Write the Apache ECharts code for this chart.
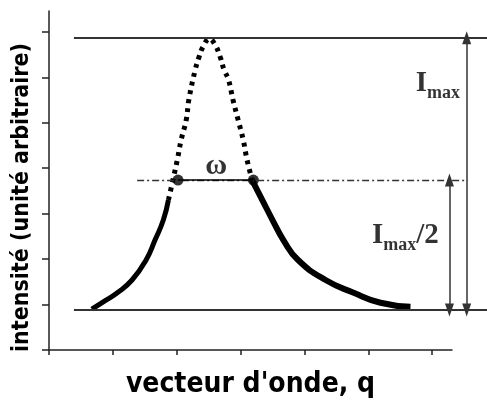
<!DOCTYPE html>
<html>
<head>
<meta charset="utf-8">
<script src="https://cdn.jsdelivr.net/npm/echarts@6/dist/echarts.min.js"></script>
<style>
html, body { margin: 0; padding: 0; background: #fff; }
#chart { width: 487px; height: 402px; }
</style>
</head>
<body>
<div id="chart"></div>
<script>
// courbe : [q, intensité]
const leftTail = [[0.67, 0.90], [0.85, 1.06], [1.07, 1.26], [1.30, 1.54], [1.52, 1.98], [1.66, 2.42], [1.79, 2.86], [1.87, 3.30]];
const peakPart = [[1.87, 3.30], [1.94, 3.74], [2.01, 4.19], [2.07, 4.63], [2.15, 5.07], [2.19, 5.51], [2.29, 6.17], [2.35, 6.45], [2.41, 6.67], [2.51, 6.85],
    [2.60, 6.72], [2.68, 6.45], [2.74, 6.17], [2.81, 5.95], [2.88, 5.51], [2.96, 5.07], [3.04, 4.63], [3.10, 4.19], [3.18, 3.74]];
const rightTail = [[3.18, 3.74], [3.34, 3.30], [3.50, 2.86], [3.67, 2.42], [3.90, 1.98], [4.33, 1.54], [4.77, 1.26], [5.19, 1.04], [5.66, 0.95]];

// niveaux de référence
const iMax = 6.87;
const iBase = 0.88;
const iHalf = 3.74;
const levelStart = 0.39;
const halfStart = 1.38;
const halfEnd = 6.55;
const fwhmPoints = [[2.02, 3.74], [3.20, 3.74]];
const arrowMaxQ = 6.54;
const arrowHalfQ = 6.27;

// axes
const qTicks = [0, 1, 2, 3, 4, 5, 6];
const iTicks = [0, 1, 2, 3, 4, 5, 6, 7];
const qMax = 6.31;
const iTop = 7.46;

// annotations
const notes = [
    { value: [6.09, 5.86], text: '{i|I}{s|max}' },
    { value: [5.58, 2.53], text: '{i|I}{s|max}{i|/2}' },
    { value: [2.62, 4.05], text: '{w|ω}' }
];

const chart = echarts.init(document.getElementById('chart'));

const labelFont = "'DejaVu Sans Condensed', 'Liberation Sans Narrow', 'DejaVu Sans', sans-serif";
const axisStyle = { color: '#222', width: 1.5 };

// la zone de tracé va jusqu'au bord droit, l'axe q s'arrête avant
const plotLeft = 49, plotRight = 487, axisRight = 452;
const qMaxPlot = qMax * (plotRight - plotLeft) / (axisRight - plotLeft);

chart.setOption({
    animation: false,
    grid: [
        { left: plotLeft, right: 487 - axisRight, top: 11, bottom: 52, outerBoundsMode: 'none' },
        { left: plotLeft, right: 0, top: 11, bottom: 52, outerBoundsMode: 'none' }
    ],
    xAxis: [
        {
            type: 'value', gridIndex: 0, min: 0, max: qMax, interval: 1,
            name: "vecteur d'onde, q", nameLocation: 'middle', nameGap: 21,
            nameTextStyle: { fontFamily: labelFont, fontWeight: 'bold', fontSize: 28, color: '#000' },
            axisLine: { lineStyle: axisStyle },
            axisTick: { length: 5, lineStyle: axisStyle, customValues: qTicks },
            axisLabel: { show: false },
            splitLine: { show: false }
        },
        { type: 'value', gridIndex: 1, min: 0, max: qMaxPlot, show: false }
    ],
    yAxis: [
        {
            type: 'value', gridIndex: 0, min: 0, max: iTop, interval: 1,
            name: 'intensité (unité arbitraire)', nameLocation: 'middle', nameGap: 15,
            nameTextStyle: { fontFamily: labelFont, fontWeight: 'bold', fontSize: 23, color: '#000', padding: [0, 34, 0, 0] },
            axisLine: { lineStyle: axisStyle },
            axisTick: { length: 7, lineStyle: axisStyle, customValues: iTicks },
            axisLabel: { show: false },
            splitLine: { show: false }
        },
        { type: 'value', gridIndex: 1, min: 0, max: iTop, show: false }
    ],
    series: [
        {
            type: 'line', xAxisIndex: 1, yAxisIndex: 1, data: leftTail,
            showSymbol: false, smooth: 0.5, silent: true,
            lineStyle: { color: '#000', width: 5 }
        },
        {
            type: 'line', xAxisIndex: 1, yAxisIndex: 1, data: peakPart,
            showSymbol: false, smooth: 0.4, silent: true,
            lineStyle: { color: '#000', width: 5, type: [4, 5] }
        },
        {
            type: 'line', xAxisIndex: 1, yAxisIndex: 1, data: rightTail,
            showSymbol: false, smooth: 0.5, silent: true,
            lineStyle: { color: '#000', width: 6 }
        },
        {
            // lignes Imax et ligne de base
            type: 'scatter', xAxisIndex: 1, yAxisIndex: 1, data: [], silent: true,
            markLine: {
                silent: true, symbol: 'none', label: { show: false },
                lineStyle: { color: '#333', width: 2, type: 'solid' },
                data: [
                    [{ coord: [levelStart, iMax] }, { coord: [qMaxPlot, iMax] }],
                    [{ coord: [levelStart, iBase] }, { coord: [qMaxPlot, iBase] }]
                ]
            }
        },
        {
            // ligne mi-hauteur
            type: 'scatter', xAxisIndex: 1, yAxisIndex: 1, data: [], silent: true,
            markLine: {
                silent: true, symbol: 'none', label: { show: false },
                lineStyle: { color: '#333', width: 1.3, type: [7, 3, 2, 3] },
                data: [[{ coord: [halfStart, iHalf] }, { coord: [halfEnd, iHalf] }]]
            }
        },
        {
            // largeur à mi-hauteur
            type: 'scatter', xAxisIndex: 1, yAxisIndex: 1, data: fwhmPoints, silent: true,
            symbolSize: 11, itemStyle: { color: '#000' },
            markLine: {
                silent: true, symbol: 'none', label: { show: false },
                lineStyle: { color: '#000', width: 1.5, type: 'solid' },
                data: [[{ coord: fwhmPoints[0] }, { coord: fwhmPoints[1] }]]
            }
        },
        {
            // flèches
            type: 'scatter', xAxisIndex: 1, yAxisIndex: 1, data: [], silent: true,
            markLine: {
                silent: true, symbol: ['triangle', 'triangle'], symbolSize: [9, 13], label: { show: false },
                lineStyle: { color: '#333', width: 1.5, type: 'solid' },
                data: [
                    [{ coord: [arrowMaxQ, iMax] }, { coord: [arrowMaxQ, iBase] }],
                    [{ coord: [arrowHalfQ, iHalf] }, { coord: [arrowHalfQ, iBase] }]
                ]
            }
        },
        {
            type: 'scatter', xAxisIndex: 1, yAxisIndex: 1, silent: true, symbolSize: 0,
            data: notes.map(n => ({ value: n.value, label: { formatter: n.text } })),
            label: {
                show: true, position: 'inside', color: '#000',
                rich: {
                    i: { fontFamily: 'Liberation Serif', fontWeight: 'bold', fontSize: 29, lineHeight: 38, color: '#000' },
                    s: { fontFamily: 'Liberation Serif', fontWeight: 'bold', fontSize: 18, lineHeight: 38, verticalAlign: 'bottom', color: '#000' },
                    w: { fontFamily: 'Liberation Serif', fontWeight: 'bold', fontSize: 30, color: '#000' }
                }
            }
        }
    ]
});
</script>
</body>
</html>
